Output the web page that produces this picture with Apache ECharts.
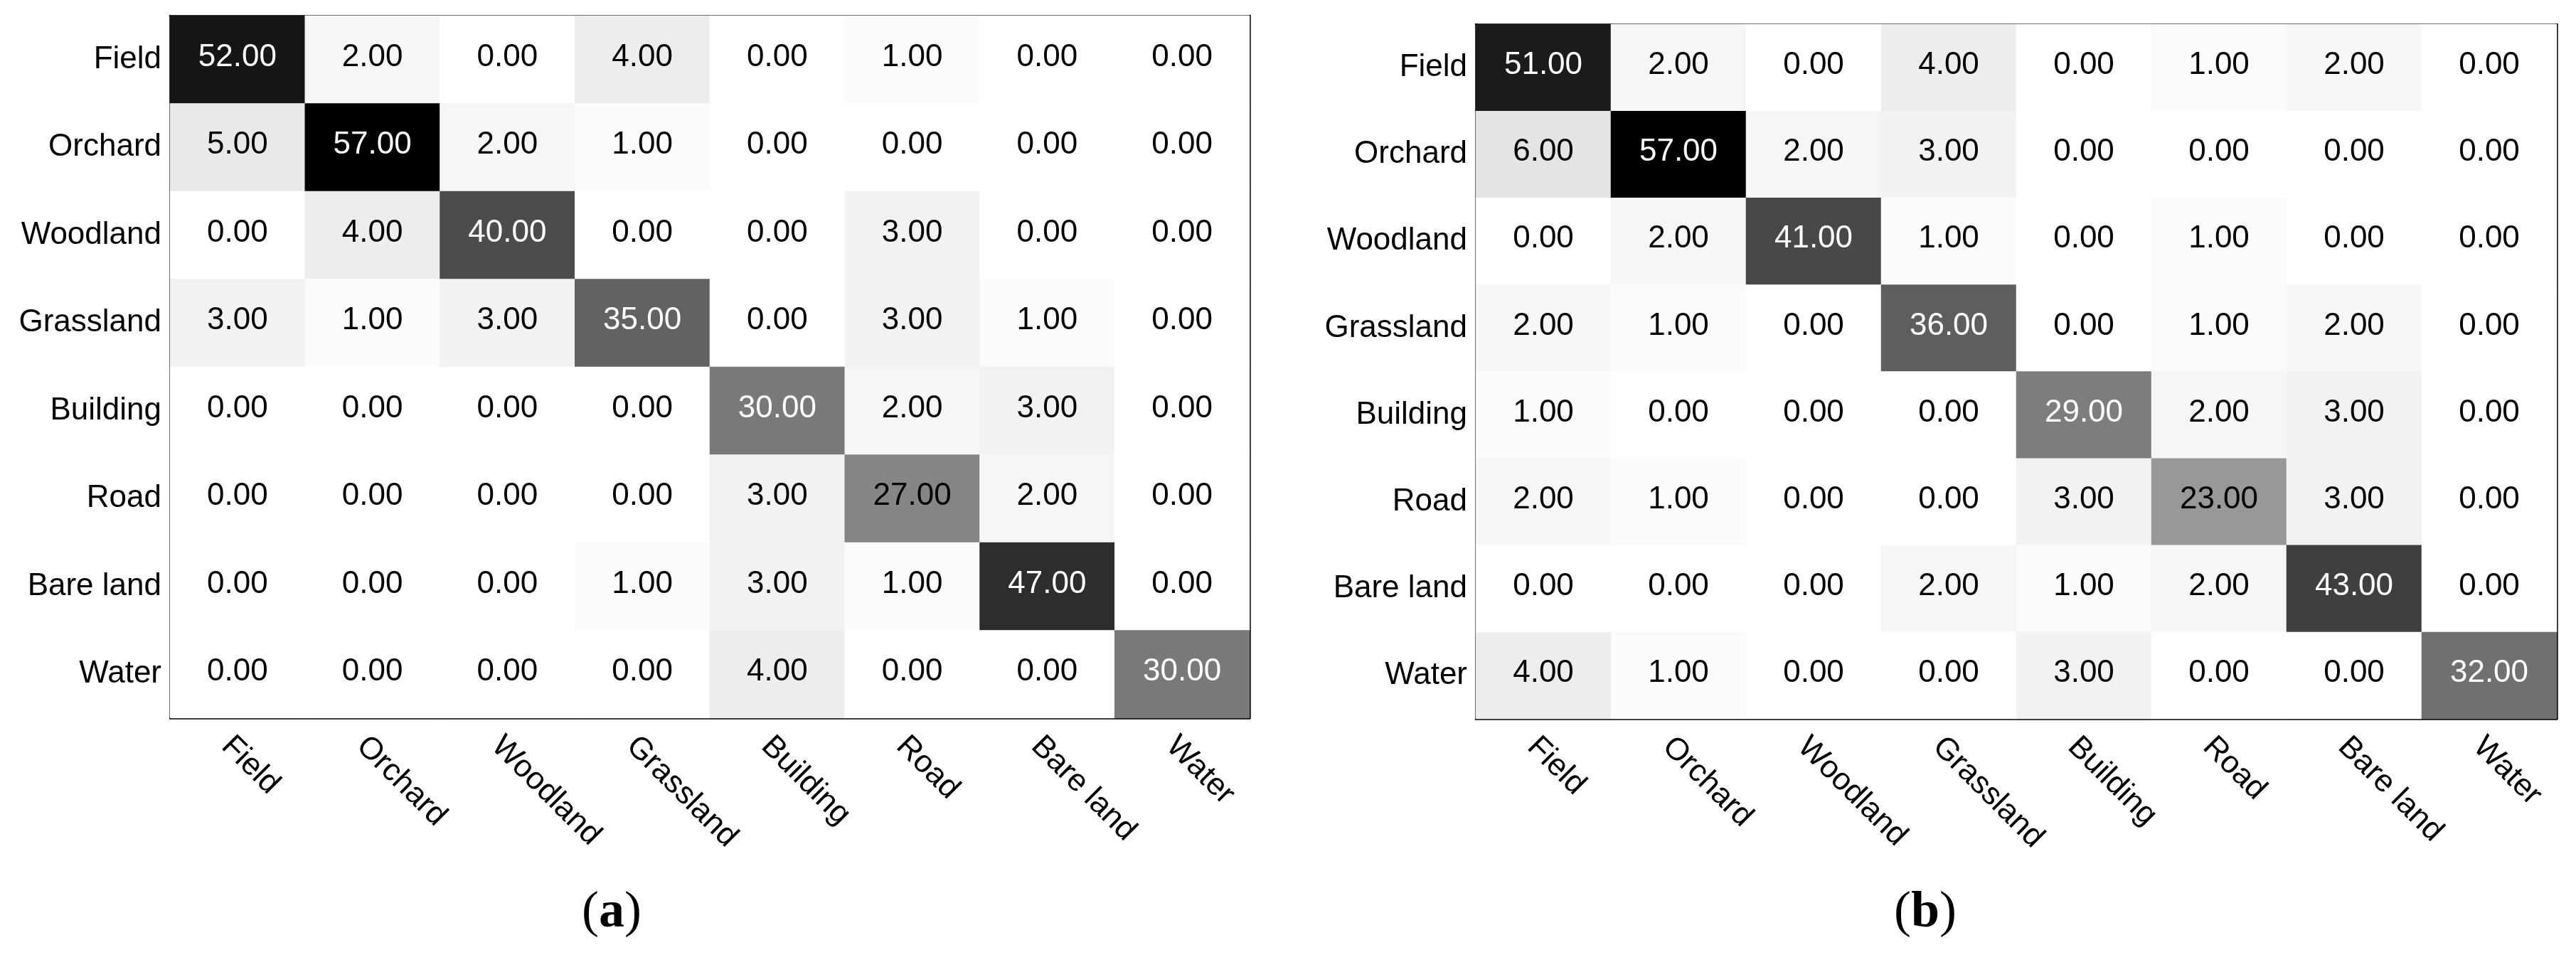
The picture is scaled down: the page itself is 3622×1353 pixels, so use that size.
<!DOCTYPE html>
<html>
<head>
<meta charset="utf-8">
<script src="https://cdn.jsdelivr.net/npm/echarts@6/dist/echarts.min.js"></script>
<style>
html,body{margin:0;padding:0;background:#fff;}
#c{width:3622px;height:1353px;}
</style>
</head>
<body>
<div id="c"></div>
<script>
const categories = ['Field','Orchard','Woodland','Grassland','Building','Road','Bare land','Water'];

const matrixA = [
  [52, 2, 0, 4, 0, 1, 0, 0],
  [5, 57, 2, 1, 0, 0, 0, 0],
  [0, 4, 40, 0, 0, 3, 0, 0],
  [3, 1, 3, 35, 0, 3, 1, 0],
  [0, 0, 0, 0, 30, 2, 3, 0],
  [0, 0, 0, 0, 3, 27, 2, 0],
  [0, 0, 0, 1, 3, 1, 47, 0],
  [0, 0, 0, 0, 4, 0, 0, 30]
];

const matrixB = [
  [51, 2, 0, 4, 0, 1, 2, 0],
  [6, 57, 2, 3, 0, 0, 0, 0],
  [0, 2, 41, 1, 0, 1, 0, 0],
  [2, 1, 0, 36, 0, 1, 2, 0],
  [1, 0, 0, 0, 29, 2, 3, 0],
  [2, 1, 0, 0, 3, 23, 3, 0],
  [0, 0, 0, 2, 1, 2, 43, 0],
  [4, 1, 0, 0, 3, 0, 0, 32]
];

const captions = ['a', 'b'];

const colorMax = 57;
const FONT = '"Liberation Sans", Arial, Helvetica, sans-serif';
const FS = 44;

function toData(m) {
  const out = [];
  m.forEach((row, yi) => row.forEach((v, xi) => {
    out.push({value: [xi, yi, v], label: {color: v > colorMax / 2 ? '#ffffff' : '#000000'}});
  }));
  return out;
}

const grids = [
  {left: 239, top: 22, width: 1518, height: 988},
  {left: 2075, top: 34, width: 1520, height: 977}
];

const axisLine = {show: true, onZero: false, lineStyle: {color: '#000', width: 2.5}};
function tick(len) { return {show: true, inside: true, alignWithLabel: true, length: len, lineStyle: {color: '#000', width: 1.5}}; }

const xAxes = [], yAxes = [], series = [];
grids.forEach((g, i) => {
  xAxes.push({
    type: 'category', gridIndex: i, position: 'bottom', data: categories,
    axisLine: axisLine, axisTick: tick(17),
    axisLabel: {interval: 0, rotate: -45, align: 'left', verticalAlign: 'top',
      fontSize: FS, fontFamily: FONT, color: '#000', margin: 17},
    splitLine: {show: false}, splitArea: {show: false}
  });
  xAxes.push({
    type: 'category', gridIndex: i, position: 'top', data: categories,
    axisLine: axisLine, axisTick: tick(15), axisLabel: {show: false},
    splitLine: {show: false}, splitArea: {show: false}
  });
  yAxes.push({
    type: 'category', gridIndex: i, position: 'left', inverse: true, data: categories,
    axisLine: axisLine, axisTick: tick(15),
    axisLabel: {interval: 0, fontSize: FS, fontFamily: FONT, color: '#000', margin: 12},
    splitLine: {show: false}, splitArea: {show: false}
  });
  yAxes.push({
    type: 'category', gridIndex: i, position: 'right', inverse: true, data: categories,
    axisLine: axisLine, axisTick: tick(17), axisLabel: {show: false},
    splitLine: {show: false}, splitArea: {show: false}
  });
  series.push({
    type: 'heatmap', xAxisIndex: i * 2, yAxisIndex: i * 2,
    data: toData(i === 0 ? matrixA : matrixB),
    label: {show: true, fontSize: FS, fontFamily: FONT, offset: [0, -3],
      formatter: p => p.value[2].toFixed(2)},
    itemStyle: {borderWidth: 0},
    emphasis: {disabled: true},
    z: 1
  });
});

const capX = [855, 2700];
const graphics = captions.map((c, i) => ({
  type: 'text', left: capX[i] - 37, top: 1248,
  style: {
    text: '{p|(}{b|' + c + '}{p|)}',
    rich: {
      p: {fontFamily: '"Liberation Serif", "Times New Roman", serif', fontSize: 72, fill: '#000'},
      b: {fontFamily: '"Liberation Serif", "Times New Roman", serif', fontSize: 72, fontWeight: 'bold', fill: '#000'}
    }
  }
}));

const chart = echarts.init(document.getElementById('c'));
chart.setOption({
  animation: false,
  backgroundColor: '#fff',
  grid: grids,
  xAxis: xAxes,
  yAxis: yAxes,
  visualMap: {show: false, min: 0, max: colorMax, seriesIndex: [0, 1], dimension: 2,
    inRange: {color: ['#ffffff', '#000000']}},
  series: series,
  graphic: graphics
});
</script>
</body>
</html>
